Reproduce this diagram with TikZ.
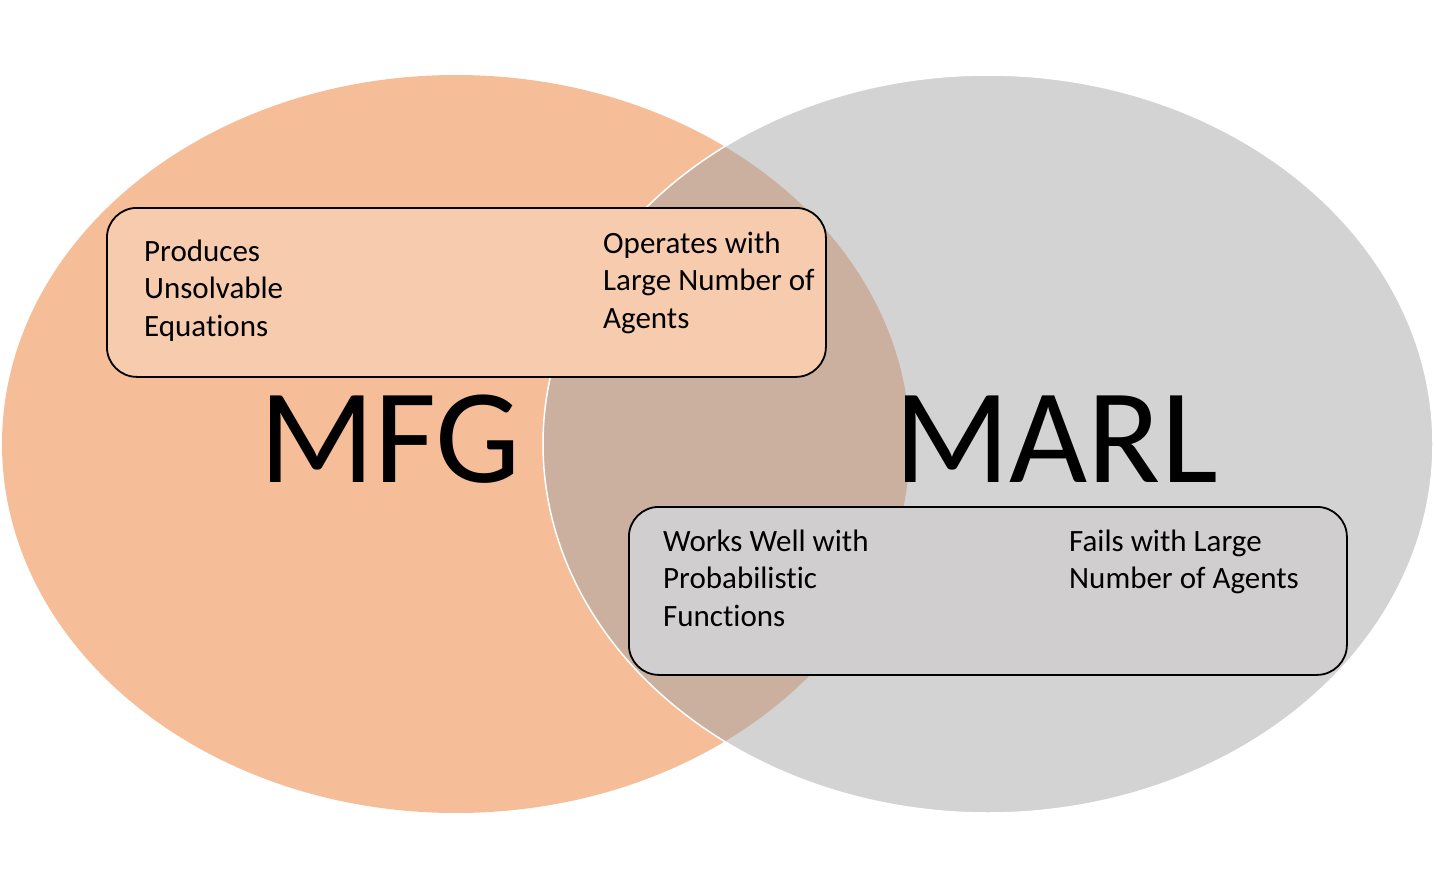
\documentclass[tikz,border=0pt]{standalone}
\usepackage{fontspec}
\setmainfont{Carlito}[Ligatures=NoCommon]
\definecolor{mfgorange}{HTML}{F5BE98}
\definecolor{marlgrey}{HTML}{D3D3D3}
\definecolor{overlapc}{HTML}{CBAF9F}
\definecolor{topbox}{HTML}{F7CBAE}
\definecolor{botbox}{HTML}{D0CECF}
\begin{document}
\begin{tikzpicture}[x=1pt,y=-1pt,
  infobox/.style={draw=black,line width=1.8pt,rounded corners=30pt,inner sep=0pt,anchor=north west},
  infotext/.style={anchor=base west,inner sep=0pt,align=left,font=\fontsize{31}{37.5}\selectfont},
  bigtext/.style={anchor=base,inner sep=0pt,font=\fontsize{135}{150}\selectfont}]
\useasboundingbox (0,0) rectangle (1436,889);
% ellipses
\fill[mfgorange] (456,444) ellipse [x radius=454pt, y radius=369pt];
\fill[marlgrey] (988,444) ellipse [x radius=445pt, y radius=369pt];
\begin{scope}
  \clip (456,444) ellipse [x radius=454pt, y radius=369pt];
  \fill[overlapc] (988,444) ellipse [x radius=445pt, y radius=369pt];
\end{scope}
\draw[white,line width=1.5pt] (988,444) ellipse [x radius=445pt, y radius=369pt];
% boxes
\node[infobox,fill=topbox,minimum width=719pt,minimum height=169pt] (tbox) at (106,207) {};
\node[infobox,fill=botbox,minimum width=718pt,minimum height=168pt] (bbox) at (628,506) {};
% titles
\node[bigtext] (mfg) at (390,482) {MFG};
\node[bigtext] (marl) at (1056,482) {MARL};
% texts (base anchor = last line baseline)
\node[infotext] (t1) at (144,336) {Produces\\Unsolvable\\Equations};
\node[infotext] (t2) at (603,328) {Operates with\\Large Number of\\Agents};
\node[infotext] (t3) at (663,626) {Works Well with\\Probabilistic\\Functions};
\node[infotext] (t4) at (1069,588.5) {Fails with Large\\Number of Agents};
\end{tikzpicture}
\end{document}
